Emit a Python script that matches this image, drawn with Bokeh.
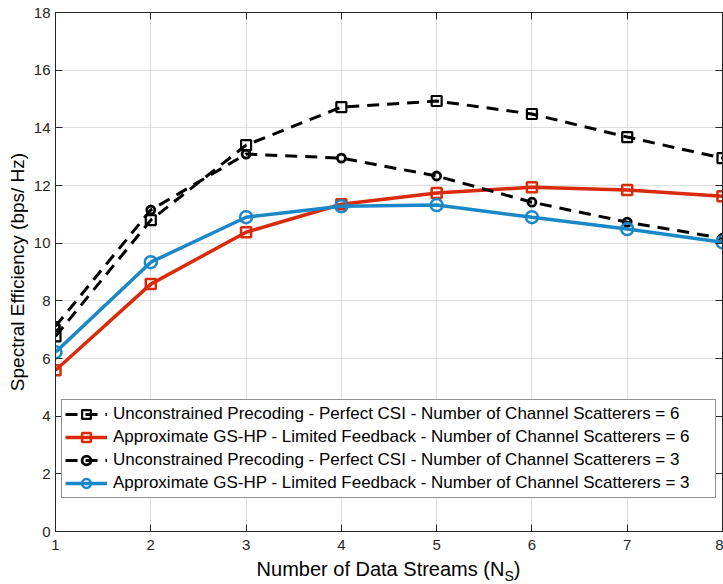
from bokeh.plotting import figure
from bokeh.models import (LinearAxis, Legend, LegendItem, Range1d,
                          FixedTicker, CustomJSTickFormatter, Div)
from bokeh.layouts import column
from bokeh.embed import file_html
from bokeh.resources import INLINE

# ---- data ----
streams = [1, 2, 3, 4, 5, 6, 7, 8]
unc_6 = [6.77, 10.80, 13.40, 14.72, 14.93, 14.48, 13.68, 12.95]
gshp_6 = [5.59, 8.58, 10.38, 11.35, 11.74, 11.94, 11.84, 11.63]
unc_3 = [7.12, 11.15, 13.09, 12.95, 12.33, 11.42, 10.73, 10.17]
gshp_3 = [6.22, 9.34, 10.90, 11.28, 11.32, 10.90, 10.49, 10.03]

x_ticks = [1, 2, 3, 4, 5, 6, 7, 8]
y_ticks = [0, 2, 4, 6, 8, 10, 12, 14, 16, 18]

labels = [
    "Unconstrained Precoding - Perfect CSI - Number of Channel Scatterers = 6",
    "Approximate GS-HP - Limited Feedback - Number of Channel Scatterers = 6",
    "Unconstrained Precoding - Perfect CSI - Number of Channel Scatterers = 3",
    "Approximate GS-HP - Limited Feedback - Number of Channel Scatterers = 3",
]
x_title_main = "Number of Data Streams (N"
x_title_sub = "S"
x_title_end = ")"
y_title = "Spectral Efficiency (bps/ Hz)"

FONT = "Liberation Sans"
AX = "#262626"
RED = "#D92A0A"
BLUE = "#1A87C8"

W = 723
FIG_H = 558
DIV_H = 26
BL, BR, BT, BB = 55, 1, 12, 27

p = figure(width=W, height=FIG_H, output_backend="svg", toolbar_location=None,
           x_range=Range1d(1, 8), y_range=Range1d(0, 18),
           min_border_left=BL, min_border_right=BR, min_border_top=BT,
           min_border_bottom=BB)
p.background_fill_color = "white"
p.border_fill_color = "white"
p.outline_line_color = AX
p.outline_line_width = 1

for ax in (p.xaxis[0], p.yaxis[0]):
    ax.major_tick_in = 7
    ax.major_tick_out = 0
    ax.minor_tick_in = 0
    ax.minor_tick_out = 0
    ax.axis_line_color = AX
    ax.major_tick_line_color = AX
    ax.major_label_text_color = AX
    ax.major_label_text_font = FONT
    ax.major_label_text_font_size = "15px"
p.xaxis[0].ticker = FixedTicker(ticks=x_ticks)
p.yaxis[0].ticker = FixedTicker(ticks=y_ticks)
p.xaxis[0].major_label_standoff = 8
p.yaxis[0].major_label_standoff = 5
p.yaxis[0].axis_label = y_title
p.yaxis[0].axis_label_text_font = FONT
p.yaxis[0].axis_label_text_font_size = "19px"
p.yaxis[0].axis_label_text_font_style = "normal"
p.yaxis[0].axis_label_text_color = "black"
p.yaxis[0].axis_label_standoff = 3

for loc, ticks in (("above", x_ticks), ("right", y_ticks)):
    a = LinearAxis(ticker=FixedTicker(ticks=ticks),
                   formatter=CustomJSTickFormatter(code="return ''"),
                   major_tick_in=7, major_tick_out=0, minor_tick_in=0,
                   minor_tick_out=0, major_label_standoff=0,
                   axis_line_color=AX, major_tick_line_color=AX)
    p.add_layout(a, loc)

p.xgrid.ticker = FixedTicker(ticks=x_ticks)
p.ygrid.ticker = FixedTicker(ticks=y_ticks)
p.xgrid.grid_line_color = "#dedede"
p.ygrid.grid_line_color = "#dedede"

# ---- series ----
DASH = "12 8"
l1 = p.line(streams, unc_6, line_color="black", line_width=3, line_dash=DASH)
s1 = p.scatter(streams, unc_6, marker="square", size=10, line_color="black",
               line_width=2.2, fill_color=None)
l2 = p.line(streams, gshp_6, line_color=RED, line_width=3.5)
s2 = p.scatter(streams, gshp_6, marker="square", size=10, line_color=RED,
               line_width=2.5, fill_color=None)
l3 = p.line(streams, unc_3, line_color="black", line_width=3, line_dash=DASH)
s3 = p.scatter(streams, unc_3, marker="circle", size=8, line_color="black",
               line_width=2.8, fill_color=None)
l4 = p.line(streams, gshp_3, line_color=BLUE, line_width=3.5)
s4 = p.scatter(streams, gshp_3, marker="circle", size=12, line_color=BLUE,
               line_width=2.5, fill_color=None)

legend = Legend(items=[
    LegendItem(label=labels[0], renderers=[l1, s1]),
    LegendItem(label=labels[1], renderers=[l2, s2]),
    LegendItem(label=labels[2], renderers=[l3, s3]),
    LegendItem(label=labels[3], renderers=[l4, s4]),
], location=(6, 33))
legend.label_text_font = FONT
legend.label_text_font_size = "17px"
legend.label_text_color = "black"
legend.glyph_width = 42
legend.glyph_height = 22
legend.label_height = 22
legend.label_width = 599
legend.label_standoff = 6
legend.padding = 3
legend.spacing = 1
legend.margin = 0
legend.border_line_color = AX
legend.border_line_width = 1
legend.background_fill_color = "white"
legend.background_fill_alpha = 1
p.add_layout(legend)

# ---- x-axis title with subscript ----
xtitle = Div(
    text=(f'<span>{x_title_main}</span>'
          f'<span style="font-size:14px;position:relative;top:5px">{x_title_sub}</span>'
          f'<span>{x_title_end}</span>'),
    width=W - BL - BR, height=DIV_H, margin=(0, BR, 0, BL),
    styles={"text-align": "center", "font-family": FONT,
            "font-size": "20px", "line-height": "22px", "color": "black",
            "white-space": "nowrap"})

layout = column(p, xtitle, spacing=0)

open("out.html", "w").write(file_html(layout, INLINE))
